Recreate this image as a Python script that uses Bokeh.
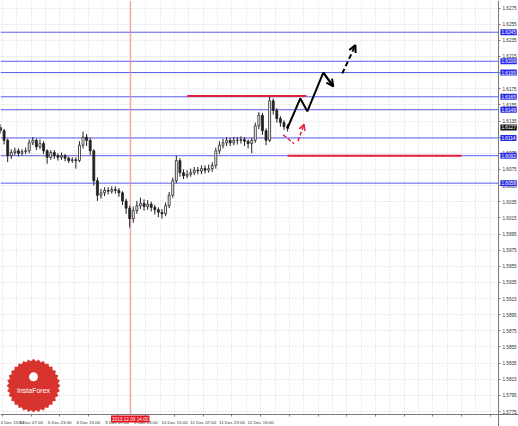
from bokeh.plotting import figure
from bokeh.models import Label, Arrow, OpenHead, FixedTicker, PrintfTickFormatter, ColumnDataSource
from bokeh.core.properties import value
from bokeh.embed import file_html
from bokeh.resources import INLINE

# ---- data ----
bar_index = list(range(0, 162, 2))
first_open = 1.6127
closes = [
    1.6123, 1.6111, 1.6092, 1.6096, 1.6098, 1.6095, 1.6097, 1.6098, 1.6108, 1.6111,
    1.6103, 1.6107, 1.6098, 1.6090, 1.6096, 1.6092, 1.6090, 1.6092, 1.6089, 1.6086,
    1.6087, 1.6086, 1.6105, 1.6115, 1.6111, 1.6098, 1.6061, 1.6043, 1.6046, 1.6049,
    1.6048, 1.6050, 1.6049, 1.6046, 1.6036, 1.6027, 1.6014, 1.6024, 1.6030, 1.6033,
    1.6029, 1.6032, 1.6028, 1.6025, 1.6022, 1.6020, 1.6030, 1.6043, 1.6061, 1.6086,
    1.6071, 1.6067, 1.6069, 1.6071, 1.6074, 1.6073, 1.6076, 1.6074, 1.6076, 1.6080,
    1.6098, 1.6105, 1.6108, 1.6111, 1.6108, 1.6111, 1.6111, 1.6112, 1.6110, 1.6107,
    1.6111, 1.6129, 1.6142, 1.6123, 1.6111, 1.6160, 1.6148, 1.6138, 1.6133, 1.6128,
    1.6126]
highs = [
    1.6131, 1.6125, 1.6113, 1.6100, 1.6102, 1.6101, 1.6100, 1.6102, 1.6112, 1.6115,
    1.6113, 1.6112, 1.6110, 1.6100, 1.6099, 1.6099, 1.6095, 1.6096, 1.6094, 1.6091,
    1.6090, 1.6090, 1.6110, 1.6122, 1.6119, 1.6114, 1.6100, 1.6065, 1.6051, 1.6053,
    1.6053, 1.6054, 1.6054, 1.6052, 1.6048, 1.6039, 1.6030, 1.6029, 1.6036, 1.6040,
    1.6038, 1.6037, 1.6035, 1.6031, 1.6028, 1.6026, 1.6034, 1.6047, 1.6065, 1.6092,
    1.6089, 1.6075, 1.6074, 1.6076, 1.6078, 1.6078, 1.6080, 1.6080, 1.6081, 1.6084,
    1.6102, 1.6110, 1.6113, 1.6115, 1.6114, 1.6115, 1.6115, 1.6116, 1.6115, 1.6112,
    1.6114, 1.6133, 1.6146, 1.6145, 1.6126, 1.6167, 1.6163, 1.6151, 1.6141, 1.6136,
    1.6131]
lows = [
    1.6119, 1.6106, 1.6084, 1.6088, 1.6093, 1.6091, 1.6092, 1.6094, 1.6095, 1.6105,
    1.6099, 1.6100, 1.6094, 1.6082, 1.6087, 1.6088, 1.6086, 1.6087, 1.6085, 1.6083,
    1.6083, 1.6076, 1.6084, 1.6101, 1.6104, 1.6093, 1.6055, 1.6036, 1.6039, 1.6042,
    1.6044, 1.6045, 1.6045, 1.6041, 1.6031, 1.6020, 1.6003, 1.6009, 1.6020, 1.6026,
    1.6024, 1.6025, 1.6023, 1.6019, 1.6016, 1.6014, 1.6017, 1.6027, 1.6040, 1.6058,
    1.6066, 1.6063, 1.6064, 1.6066, 1.6068, 1.6069, 1.6069, 1.6070, 1.6071, 1.6072,
    1.6076, 1.6094, 1.6101, 1.6104, 1.6104, 1.6105, 1.6106, 1.6107, 1.6104, 1.6101,
    1.6095, 1.6108, 1.6125, 1.6118, 1.6105, 1.6109, 1.6143, 1.6133, 1.6128, 1.6124,
    1.6122]

blue_levels = [1.6245, 1.6209, 1.6195, 1.6165, 1.6149, 1.6114, 1.6092, 1.6058]
current_price = 1.6127

red_level_y = [1.6166, 1.6092]
red_level_x0 = [104, 160]
red_level_x1 = [170.5, 257]

forecast_x = [159.9, 167.1, 171.0, 179.9, 185.5]
forecast_y = [1.6126, 1.6163, 1.6147, 1.6195, 1.6178]
forecast2_x = [190.5, 197.8]
forecast2_y = [1.6194, 1.6229]
alt_x = [157.5, 163.6]
alt_y = [1.6118, 1.6107]
alt2_x = [165.8, 169.2]
alt2_y = [1.6110, 1.6131]

vline_bar = 72.3
vline_text = "2013.12.09 14:00"

x_tick_pos = [1, 17, 33, 49, 65, 81, 97, 113, 129, 145]
x_tick_labels = ["4 Dec 15:00", "5 Dec 07:00", "5 Dec 23:00", "6 Dec 15:00", "9 Dec 07:00",
                 "9 Dec 23:00", "10 Dec 15:00", "11 Dec 07:00", "11 Dec 23:00", "12 Dec 15:00"]
y_ticks = [1.5775, 1.5795, 1.5815, 1.5835, 1.5855, 1.5875, 1.5895, 1.5915, 1.5935, 1.5955,
           1.5975, 1.5995, 1.6015, 1.6035, 1.6055, 1.6075, 1.6095, 1.6115, 1.6135, 1.6155,
           1.6175, 1.6195, 1.6215, 1.6235, 1.6255, 1.6275]

# ---- layout constants ----
FONT = "Liberation Sans"
FS = "4.7px"
X_EDGE, X_END = 277.5, 288.7          # chart edge / full width in bars
Y_EDGE, Y_BOT, Y_TOP = 1.57713, 1.57565, 1.62843
EDGE_COLOR = "#7a7a7a"

p = figure(width=518, height=426, x_range=(0, X_END), y_range=(Y_BOT, Y_TOP),
           output_backend="svg", toolbar_location=None, y_axis_location="right",
           min_border_left=0, min_border_top=0, min_border_right=0, min_border_bottom=0)
p.background_fill_color = "white"
p.border_fill_color = "white"
p.outline_line_color = None

all_major = list(range(1, 278, 16))
minor = list(range(9, 278, 16))
p.xaxis.ticker = FixedTicker(ticks=all_major, minor_ticks=minor)
overrides = {t: "" for t in all_major}
for t, lab in zip(x_tick_pos, x_tick_labels):
    overrides[t] = lab
p.xaxis.major_label_overrides = overrides
p.yaxis.ticker = FixedTicker(ticks=y_ticks)
p.yaxis.formatter = PrintfTickFormatter(format="%.4f")
p.xaxis.fixed_location = Y_EDGE
p.yaxis.fixed_location = X_EDGE
for ax in (p.xaxis, p.yaxis):
    ax.axis_line_color = EDGE_COLOR
    ax.major_tick_line_color = EDGE_COLOR
    ax.minor_tick_line_color = None
    ax.major_tick_out = 2
    ax.major_tick_in = 0
    ax.major_label_text_font = FONT
    ax.major_label_text_font_size = FS
    ax.major_label_text_color = "#333333"
    ax.major_label_standoff = 2
p.xaxis.major_label_standoff = 1
p.xaxis.major_label_text_font_size = "4.4px"
p.xaxis.major_label_text_align = "left"
p.xgrid.grid_line_color = "#d6d6d6"
p.xgrid.grid_line_dash = "1 2"
p.xgrid.minor_grid_line_color = "#d6d6d6"
p.xgrid.minor_grid_line_dash = "1 2"
p.ygrid.grid_line_color = "#d6d6d6"
p.ygrid.grid_line_dash = "1 2"

# white strips for the price and time scales
p.quad(left=[X_EDGE, 0], right=[X_END, X_END], bottom=[Y_BOT, Y_BOT], top=[Y_TOP, Y_EDGE],
       fill_color="white", line_color=None)

# blue levels
p.segment(x0=[0] * len(blue_levels), y0=blue_levels, x1=[X_EDGE] * len(blue_levels), y1=blue_levels,
          line_color="#5b5bea", line_width=1)
# vertical red time line
p.segment(x0=[vline_bar], y0=[Y_EDGE], x1=[vline_bar], y1=[Y_TOP], line_color="#ef8a8a", line_width=1)

# candles
opens = [first_open] + closes[:-1]
src = ColumnDataSource(dict(x=bar_index, o=opens, c=closes, h=highs, l=lows,
                            top=[max(a, b) for a, b in zip(opens, closes)],
                            bot=[min(a, b) for a, b in zip(opens, closes)],
                            fill=["white" if c >= o else "#222222" for o, c in zip(opens, closes)]))
p.segment(x0="x", y0="l", x1="x", y1="h", source=src, line_color="#222222", line_width=1)
p.vbar(x="x", width=1.1, top="top", bottom="bot", source=src, fill_color="fill",
       line_color="#222222", line_width=0.8)

# red horizontal levels
p.segment(x0=red_level_x0, y0=red_level_y, x1=red_level_x1, y1=red_level_y,
          line_color="#e5213a", line_width=2)

# forecast paths
p.line(forecast_x, forecast_y, line_color="black", line_width=2)
p.add_layout(Arrow(end=OpenHead(size=7, line_color="black", line_width=2),
                   x_start=forecast_x[-2], y_start=forecast_y[-2],
                   x_end=forecast_x[-1], y_end=forecast_y[-1],
                   line_color="black", line_width=2))
p.add_layout(Arrow(end=OpenHead(size=7, line_color="black", line_width=2),
                   x_start=forecast2_x[0], y_start=forecast2_y[0],
                   x_end=forecast2_x[1], y_end=forecast2_y[1],
                   line_color="black", line_width=2, line_dash="5 3"))
p.line(alt_x, alt_y, line_color="#e5213a", line_width=1.5, line_dash="4 2")
p.add_layout(Arrow(end=OpenHead(size=6, line_color="#e5213a", line_width=1.5),
                   x_start=alt2_x[0], y_start=alt2_y[0],
                   x_end=alt2_x[1], y_end=alt2_y[1],
                   line_color="#e5213a", line_width=1.5, line_dash="4 2"))

# price labels
for lv in blue_levels:
    p.add_layout(Label(x=X_EDGE, y=lv, x_offset=2, text="%.4f" % lv, text_font=FONT,
                       text_font_size=FS, text_color="white", text_baseline="middle",
                       background_fill_color="#2a2ae6", background_fill_alpha=1.0, padding=1))
p.add_layout(Label(x=X_EDGE, y=current_price, x_offset=2, text="%.4f" % current_price,
                   text_font=FONT, text_font_size=FS, text_color="white",
                   text_baseline="middle", background_fill_color="#111111",
                   background_fill_alpha=1.0, padding=1))
# time label
p.add_layout(Label(x=vline_bar, y=Y_EDGE, y_offset=-1, text=vline_text, text_font=FONT,
                   text_font_size=FS, text_color="white", text_align="center",
                   text_baseline="top", background_fill_color="#e8101c",
                   background_fill_alpha=1.0, padding=1))

# InstaForex logo
logo_x, logo_y = 18.4, 1.5807
p.scatter([logo_x] * 8, [logo_y] * 8, marker="square", size=38,
          angle=[0, 0.196, 0.393, 0.589, 0.785, 0.982, 1.178, 1.374],
          fill_color="#d8342f", line_color=None)
p.scatter([logo_x], [logo_y], marker="circle", size=46, fill_color="#d8342f", line_color=None)
p.scatter([logo_x], [logo_y + 0.0011], marker="circle", size=9, fill_color="white", line_color=None)
p.text([logo_x], [logo_y - 0.0006], text=["InstaForex"], text_font=value(FONT),
       text_font_size="7px", text_color="white", text_align="center", text_baseline="middle")

open("out.html", "w").write(file_html(p, INLINE))
